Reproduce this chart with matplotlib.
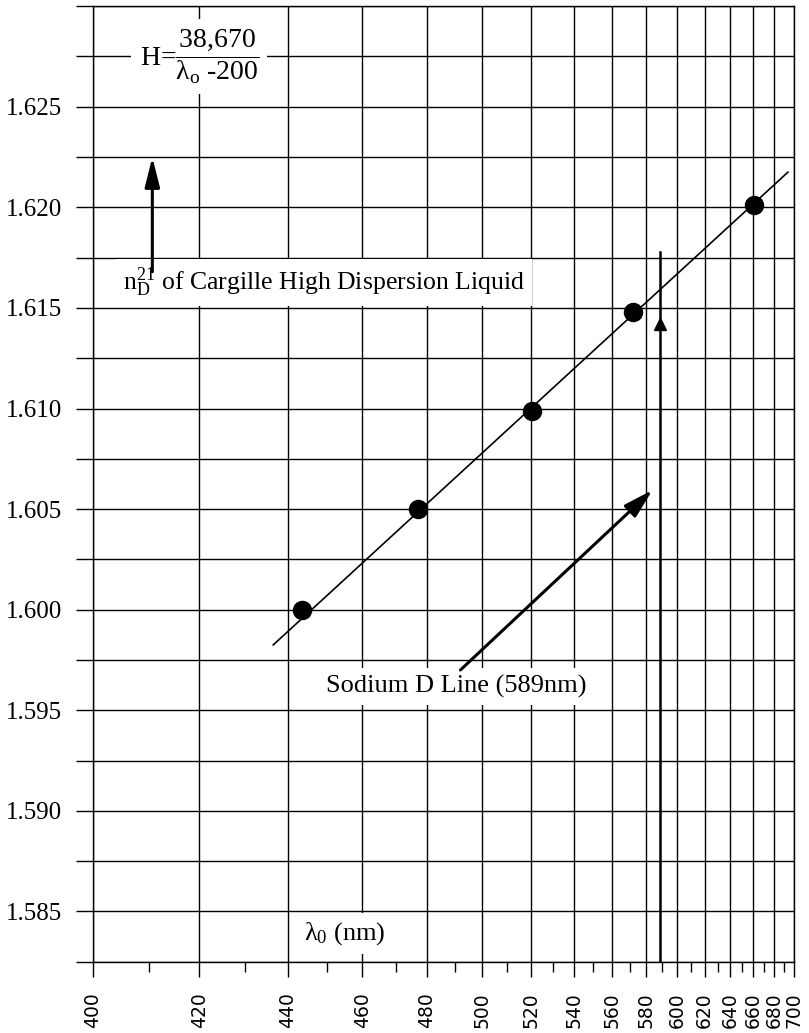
import numpy as np
import matplotlib
matplotlib.use('Agg')
import matplotlib.pyplot as plt
from matplotlib.ticker import FixedLocator, FormatStrFormatter, NullFormatter

# measured points of the liquid (wavelength nm, refractive index)
wavelengths = [443.5, 477.0, 520.5, 572.0, 660.5]
indices = [1.6000, 1.6050, 1.6099, 1.6148, 1.6201]

# ends of the dispersion line drawn through them
fit_wavelengths = [436.5, 694.0]
fit_indices = [1.59825, 1.62175]

x_major = list(range(400, 701, 20))
x_minor = list(range(410, 700, 20))
y_labels = [1.585, 1.590, 1.595, 1.600, 1.605, 1.610, 1.615, 1.620, 1.625]
y_grid = [1.5825 + 0.0025 * i for i in range(20)]

sodium_d = 589
sodium_top = 1.6178
sodium_head = 1.6142
sodium_arrow_from = (491.8, 1.5970)
sodium_arrow_to = (584.0, 1.60595)
liquid_arrow_from = (410.7, 1.6168)
liquid_arrow_to = (410.7, 1.6225)

plt.rcParams['font.family'] = ['Liberation Serif', 'DejaVu Serif']
plt.rcParams['mathtext.fontset'] = 'custom'
plt.rcParams['mathtext.rm'] = 'Liberation Serif'
plt.rcParams['mathtext.it'] = 'Liberation Serif:italic'


def hartmann(lam):
    lam = np.asarray(lam, dtype=float)
    return -38670.0 / (lam - 200.0)


def hartmann_inv(h):
    h = np.asarray(h, dtype=float)
    return 200.0 - 38670.0 / h


fig = plt.figure(figsize=(8.09, 10.33), dpi=100)
ax = fig.add_axes([0.115, 0.069, 0.866, 0.925])

ax.set_xscale('function', functions=(hartmann, hartmann_inv))
ax.set_xlim(400, 700)
ax.set_ylim(1.5825, 1.630)

ax.xaxis.set_major_locator(FixedLocator(x_major))
ax.xaxis.set_minor_locator(FixedLocator(x_minor))
ax.xaxis.set_major_formatter(FormatStrFormatter('%d'))
ax.xaxis.set_minor_formatter(NullFormatter())
ax.yaxis.set_major_locator(FixedLocator(y_labels))
ax.yaxis.set_minor_locator(FixedLocator(y_grid))
ax.yaxis.set_major_formatter(FormatStrFormatter('%.3f'))
ax.yaxis.set_minor_formatter(NullFormatter())

ax.tick_params(axis='x', which='major', length=11, width=1, pad=11,
               labelsize=13.5, labelrotation=90)
ax.tick_params(axis='x', which='minor', length=7, width=1)
ax.tick_params(axis='y', which='both', length=12, width=1, pad=10, labelsize=18)
for lab in ax.get_xticklabels():
    lab.set_fontfamily('DejaVu Sans')

ax.grid(True, axis='x', which='major', color='black', lw=1.0)
ax.grid(True, axis='y', which='both', color='black', lw=1.0)
for sp in ax.spines.values():
    sp.set_linewidth(1.0)

# dispersion line and data points
ax.plot(fit_wavelengths, fit_indices, color='black', lw=1.2, zorder=4)
ax.plot(wavelengths, indices, 'o', color='black', ms=13, zorder=5)

# sodium D line
ax.plot([sodium_d, sodium_d], [1.5825, sodium_top], color='black', lw=1.8, zorder=4)
ax.plot([sodium_d], [sodium_head], marker='^', color='black', ms=8, zorder=4)

ax.annotate('', xy=sodium_arrow_to, xytext=sodium_arrow_from,
            arrowprops=dict(arrowstyle='-|>,head_length=1.8,head_width=0.5',
                            mutation_scale=10, lw=2.2, color='black',
                            shrinkA=0, shrinkB=0), zorder=6)
ax.annotate('', xy=liquid_arrow_to, xytext=liquid_arrow_from,
            arrowprops=dict(arrowstyle='-|>,head_length=1.8,head_width=0.45',
                            mutation_scale=10, lw=2.2, color='black',
                            shrinkA=0, shrinkB=0), zorder=6)

white = dict(facecolor='white', edgecolor='none', pad=5)

ax.text(490.4, 1.5962, 'Sodium D Line (589nm)', fontsize=19,
        ha='center', va='center', bbox=white, zorder=5)
ax.text(405.3, 1.61625, r'n$^{21}_{\mathrm{D}}$ of Cargille High Dispersion Liquid',
        fontsize=18.5, ha='left', va='center', bbox=white, zorder=5)
ax.text(455.0, 1.5839, r'λ$_0$ (nm)', fontsize=19,
        ha='center', va='center', bbox=white, zorder=5)
ax.text(420.0, 1.6275, r'H=$\dfrac{\mathrm{38{,}670}}{\mathrm{\lambda_o\ \text{-}200}}$',
        fontsize=20, ha='center', va='center',
        bbox=dict(facecolor='white', edgecolor='none', pad=6), zorder=5)

fig.savefig('out.png', dpi=100)
